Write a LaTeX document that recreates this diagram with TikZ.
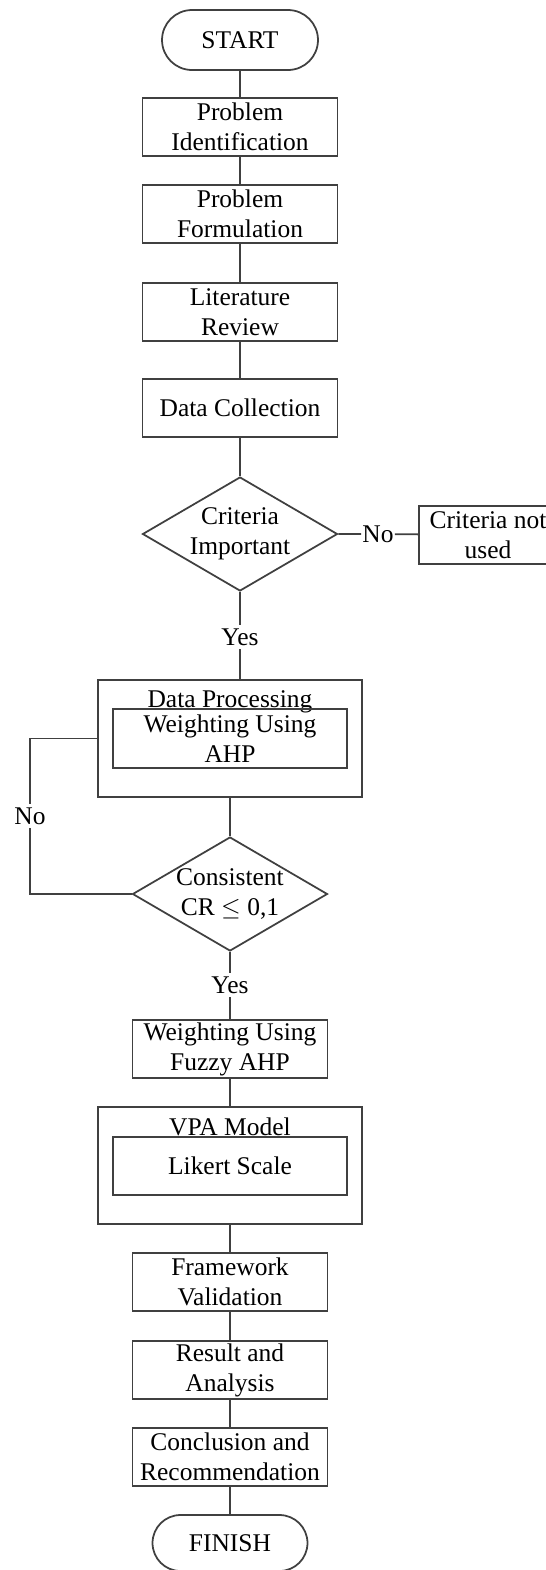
\documentclass[tikz,border=0pt]{standalone}
\usepackage{fontspec}
\setmainfont{Liberation Serif}
\usetikzlibrary{shapes.geometric,shapes.misc}
\tikzset{
  base/.style={draw=black!75,line width=1pt,align=center,inner sep=0pt,font=\fontsize{14.5}{17}\selectfont},
  term/.style={base,rounded rectangle,minimum width=3.12cm,minimum height=1.2cm},
  stepbox/.style={base,rectangle,minimum width=3.9cm,minimum height=1.16cm},
  frame/.style={base,rectangle,minimum width=5.28cm,minimum height=2.34cm},
  inbox/.style={base,rectangle,minimum width=4.68cm,minimum height=1.18cm},
  decision/.style={base,diamond,aspect=1.7,minimum width=3.9cm,minimum height=2.28cm},
  lbl/.style={font=\fontsize{14.5}{17}\selectfont,inner sep=2pt},
  title/.style={font=\fontsize{14.5}{17}\selectfont,inner sep=0pt,anchor=base},
  link/.style={draw=black!75,line width=1pt}
}
\begin{document}
\begin{tikzpicture}[x=0.02cm,y=-0.02cm]
  \useasboundingbox (0,0) rectangle (546,1570);
  \node[term] (start) at (240,40) {START};
  \node[stepbox] (ident) at (240,127) {Problem\\Identification};
  \node[stepbox] (formul) at (240,214) {Problem\\Formulation};
  \node[stepbox] (review) at (240,312) {Literature\\Review};
  \node[stepbox] (collect) at (240,408) {Data Collection};
  \node[decision] (crit) at (240,534) {Criteria\\Important};
  \node[lbl,inner xsep=0.5pt] (no1) at (378,534) {No};
  \node[stepbox,minimum width=2.76cm] (unused) at (488,535) {Criteria not\\used};
  \node[lbl] (yes1) at (240,637) {Yes};
  \node[frame] (proc) at (230,738.5) {};
  \node[title] (proctitle) at (230,707) {Data Processing};
  \node[inbox] (ahp) at (230,738.5) {Weighting Using\\AHP};
  \node[decision] (cons) at (230,894) {Consistent\\CR $\leq$ 0,1};
  \node[lbl] (no2) at (30,816) {No};
  \node[lbl] (yes2) at (230,985) {Yes};
  \node[stepbox] (fuzzy) at (230,1049) {Weighting Using\\Fuzzy AHP};
  \node[frame] (vpa) at (230,1165.5) {};
  \node[title] (vpatitle) at (230,1135) {VPA Model};
  \node[inbox,minimum height=1.16cm] (likert) at (230,1166) {Likert Scale};
  \node[stepbox] (valid) at (230,1282) {Framework\\Validation};
  \node[stepbox] (result) at (230,1370) {Result and\\Analysis};
  \node[stepbox] (concl) at (230,1457) {Conclusion and\\Recommendation};
  \node[term,minimum width=3.1cm,minimum height=1.12cm] (finish) at (230,1543) {FINISH};

  \draw[link] (start) -- (ident);
  \draw[link] (ident) -- (formul);
  \draw[link] (formul) -- (review);
  \draw[link] (review) -- (collect);
  \draw[link] (collect) -- (crit);
  \draw[link] (crit.east) -- (no1) -- (unused);
  \draw[link] (crit.south) -- (yes1) -- (crit.south |- proc.north);
  \draw[link] (proc) -- (cons);
  \draw[link] (cons.west) -| (no2);
  \draw[link] (no2) |- (proc.west);
  \draw[link] (cons.south) -- (yes2) -- (fuzzy);
  \draw[link] (fuzzy) -- (vpa);
  \draw[link] (vpa) -- (valid);
  \draw[link] (valid) -- (result);
  \draw[link] (result) -- (concl);
  \draw[link] (concl) -- (finish);
\end{tikzpicture}
\end{document}
